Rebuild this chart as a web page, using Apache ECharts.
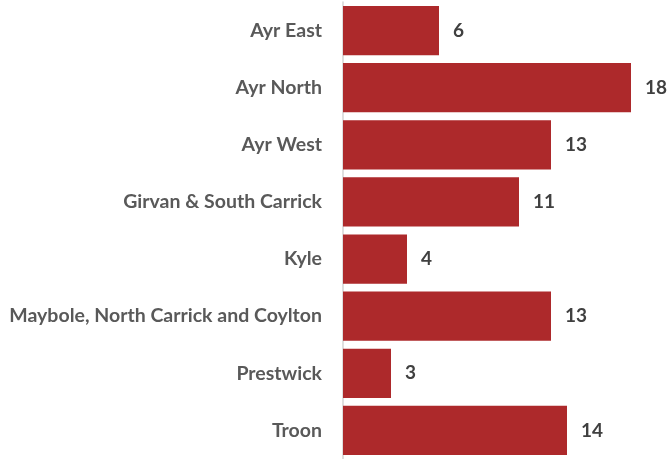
<!DOCTYPE html>
<html><head><meta charset="utf-8">
<script src="https://cdn.jsdelivr.net/npm/echarts@6/dist/echarts.min.js"></script>
<style>html,body{margin:0;padding:0;background:#fff}#c{width:668px;height:459px}</style>
</head><body><div id="c"></div>
<script>
var categories = ["Ayr East","Ayr North","Ayr West","Girvan & South Carrick","Kyle","Maybole, North Carrick and Coylton","Prestwick","Troon"];
var values = [6,18,13,11,4,13,3,14];
var FONT = '"Lato", sans-serif';
var chart = echarts.init(document.getElementById('c'));
chart.setOption({
  animation:false,
  grid:{left:343,top:2,width:320,height:458,containLabel:false},
  xAxis:{type:'value',min:0,max:20,show:false},
  yAxis:{type:'category',data:categories,inverse:true,
    axisLine:{show:true,lineStyle:{color:'#d4d4d4',width:1.5}},
    axisTick:{show:false},
    axisLabel:{margin:21,color:'#595959',fontFamily:FONT,fontWeight:'bold',fontSize:19.5,padding:[3,0,0,0]}},
  series:[{type:'bar',data:values,barCategoryGap:'14%',
    itemStyle:{color:'#ad292b'},
    label:{show:true,position:'right',distance:14,color:'#404040',fontFamily:FONT,fontWeight:'bold',fontSize:19,padding:[3,0,0,0]}}]
});
</script></body></html>
